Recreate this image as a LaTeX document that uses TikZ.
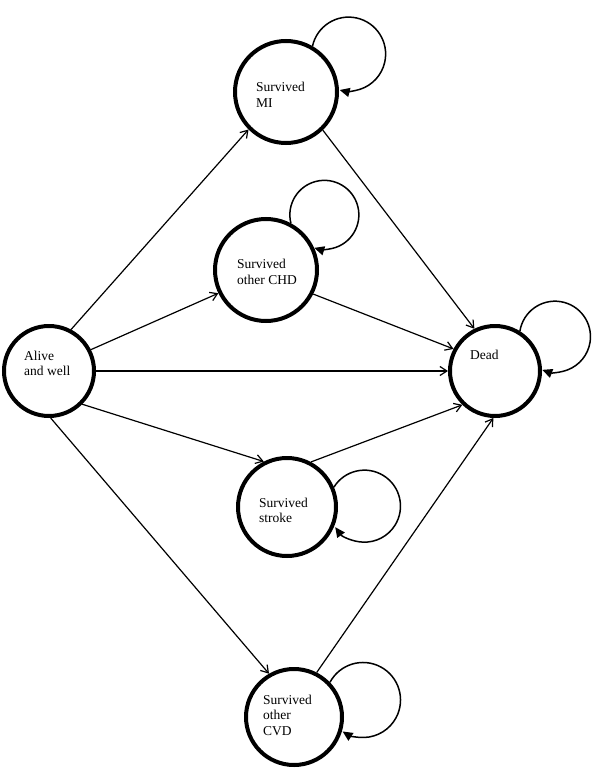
\documentclass[tikz,border=0pt]{standalone}
\usepackage{fontspec}
\setmainfont{Liberation Serif}
\usetikzlibrary{arrows.meta}
\begin{document}
\begin{tikzpicture}[x=1pt,y=1pt,
  state/.style={circle,draw,line width=4pt,inner sep=0pt,fill=white},
  lbl/.style={anchor=west,align=left,inner sep=0pt,font=\fontsize{13.5}{15.5}\selectfont},
  trans/.style={line width=1.2pt,-{Straight Barb[length=7pt,width=9pt]}},
  selfloop/.style={line width=1.5pt,-{Triangle[length=10pt,width=9pt]}}]
\useasboundingbox (0,0) rectangle (600,-778);
\node[state,minimum size=102pt] (mi) at (286,-92) {};
\node[state,minimum size=102pt] (chd) at (266,-270) {};
\node[state,minimum size=90pt] (alive) at (49,-371) {};
\node[state,minimum size=90pt] (dead) at (495,-371) {};
\node[state,minimum size=98pt] (stroke) at (287,-507) {};
\node[state,minimum size=96pt] (cvd) at (294,-717) {};
\node[lbl] (mitxt) at (256,-95) {Survived\\MI};
\node[lbl] (chdtxt) at (237,-272) {Survived\\other CHD};
\node[lbl] (alivetxt) at (24,-363.5) {Alive\\and well};
\node[lbl] (deadtxt) at (470,-355) {Dead};
\node[lbl] (stroketxt) at (259,-510.5) {Survived\\stroke};
\node[lbl] (cvdtxt) at (263,-715) {Survived\\other\\CVD};
\draw[trans] (alive.62) -- (mi.225);
\draw[trans] (alive.27.6) -- (chd.206);
\draw[trans] (alive.0) -- (dead.180);
\draw[trans] (alive.-45) -- (stroke.117);
\draw[trans] (alive.-88) -- (cvd.120);
\draw[trans] (mi.-46) -- (dead.116.6);
\draw[trans] (chd.-27) -- (dead.152);
\draw[trans] (stroke.62.5) -- (dead.226);
\draw[trans] (cvd.63) -- (dead.268);
\draw[selfloop] (mi.60.5) arc[start angle=167.5,end angle=-104,radius=37];
\draw[selfloop] (chd.62.5) arc[start angle=194,end angle=-107,radius=34.5];
\draw[selfloop] (dead.58.6) arc[start angle=171,end angle=-111,radius=35.5];
\draw[selfloop] (stroke.23) arc[start angle=148,end angle=-144.4,radius=36];
\draw[selfloop] (cvd.44.8) arc[start angle=151.8,end angle=-123,radius=37.5];
\end{tikzpicture}
\end{document}
